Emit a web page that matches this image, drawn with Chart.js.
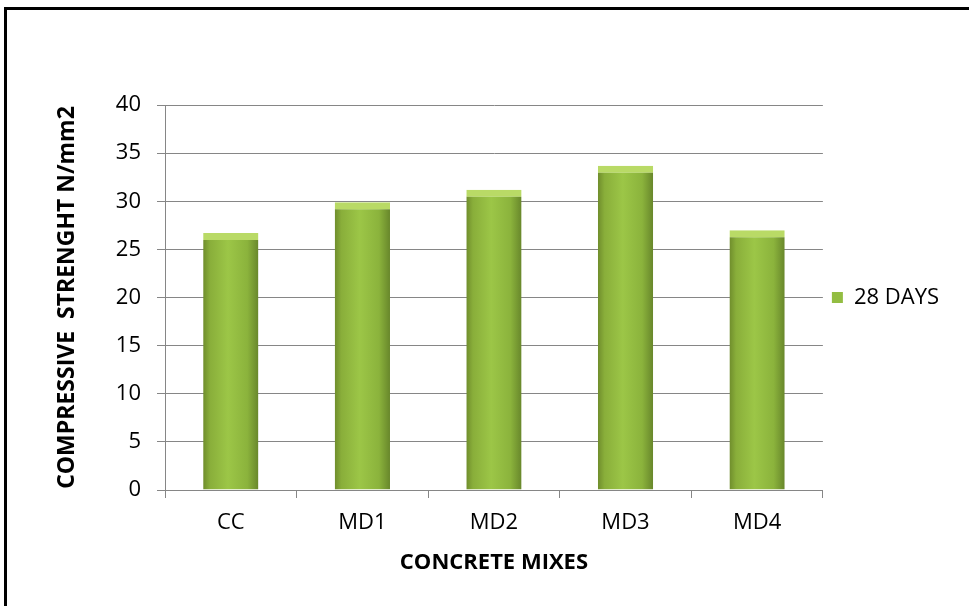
<!DOCTYPE html>
<html>
<head>
<meta charset="utf-8">
<script src="https://cdn.jsdelivr.net/npm/chart.js@4"></script>
<style>
  html, body { margin: 0; padding: 0; background: #fff; overflow: hidden; }
  #wrap { position: relative; width: 969px; height: 606px; }
  #frame {
    position: absolute; left: 4px; top: 7px; width: 1000px; height: 650px;
    border: 3px solid #000; pointer-events: none;
  }
</style>
</head>
<body>
<div id="wrap">
  <canvas id="strengthChart" width="969" height="606"></canvas>
  <div id="frame"></div>
</div>
<script>
// データ
const mixes = ["CC", "MD1", "MD2", "MD3", "MD4"];
const strength28 = [26.7, 29.9, 31.2, 33.7, 27.0];
const seriesName = "28 DAYS";
const yTicks = { min: 0, max: 40, step: 5 };

const fontFamily = "'Open Sans', sans-serif";

// 棒の横方向グラデーション（スケールから位置を取る）
function barFill(ctx) {
  const chart = ctx.chart;
  const xScale = chart.scales.x;
  if (ctx.dataIndex === undefined || !xScale || !chart.chartArea) return "#8db53d";
  const center = xScale.getPixelForValue(ctx.dataIndex);
  const half = (xScale.width / mixes.length) * 0.42 / 2;
  const g = chart.ctx.createLinearGradient(center - half, 0, center + half, 0);
  g.addColorStop(0, "#6f8d2c");
  g.addColorStop(0.12, "#89ae3a");
  g.addColorStop(0.45, "#9cc647");
  g.addColorStop(0.8, "#8bb33c");
  g.addColorStop(1, "#68872b");
  return g;
}

const chart = new Chart(document.getElementById("strengthChart"), {
  type: "bar",
  data: {
    labels: mixes,
    datasets: [
      {
        label: seriesName,
        data: strength28,
        backgroundColor: barFill,
        borderColor: "#b9da66",
        borderWidth: { top: 7, left: 0, right: 0, bottom: 0 },
        borderSkipped: "bottom",
        categoryPercentage: 1,
        barPercentage: 0.42,
      },
    ],
  },
  options: {
    responsive: false,
    animation: false,
    layout: { padding: { left: 52, top: 105, right: 20, bottom: 26 } },
    plugins: {
      tooltip: { enabled: false },
      legend: {
        position: "right",
        fullSize: false,
        labels: {
          color: "#000",
          font: { family: fontFamily, size: 22 },
          boxWidth: 11,
          boxHeight: 11,
          padding: 9,
          generateLabels: (c) =>
            Chart.defaults.plugins.legend.labels.generateLabels(c).map((l) => {
              l.lineWidth = 0;
              l.fillStyle = "#93bd42";
              return l;
            }),
        },
      },
    },
    scales: {
      x: {
        grid: {
          drawOnChartArea: false,
          drawTicks: true,
          tickLength: 8,
          color: "#868686",
          offset: true,
        },
        border: { color: "#868686" },
        ticks: { color: "#000", font: { family: fontFamily, size: 22 }, padding: 12 },
        title: {
          display: true,
          text: "CONCRETE MIXES",
          color: "#000",
          font: { family: fontFamily, size: 22, weight: "bold" },
          padding: 4,
        },
        afterFit: (scale) => { scale.height = 90; },
      },
      y: {
        min: yTicks.min,
        max: yTicks.max,
        grid: { color: "#868686", tickLength: 8 },
        border: { color: "#868686" },
        ticks: {
          stepSize: yTicks.step,
          color: "#000",
          font: { family: fontFamily, size: 22 },
          padding: 16,
        },
        title: {
          display: true,
          text: "COMPRESSIVE  STRENGHT N/mm2",
          color: "#000",
          font: { family: fontFamily, size: 23, weight: "bold" },
          padding: 2,
        },
        afterFit: (scale) => { scale.width = 113; },
      },
    },
  },
});
</script>
</body>
</html>
